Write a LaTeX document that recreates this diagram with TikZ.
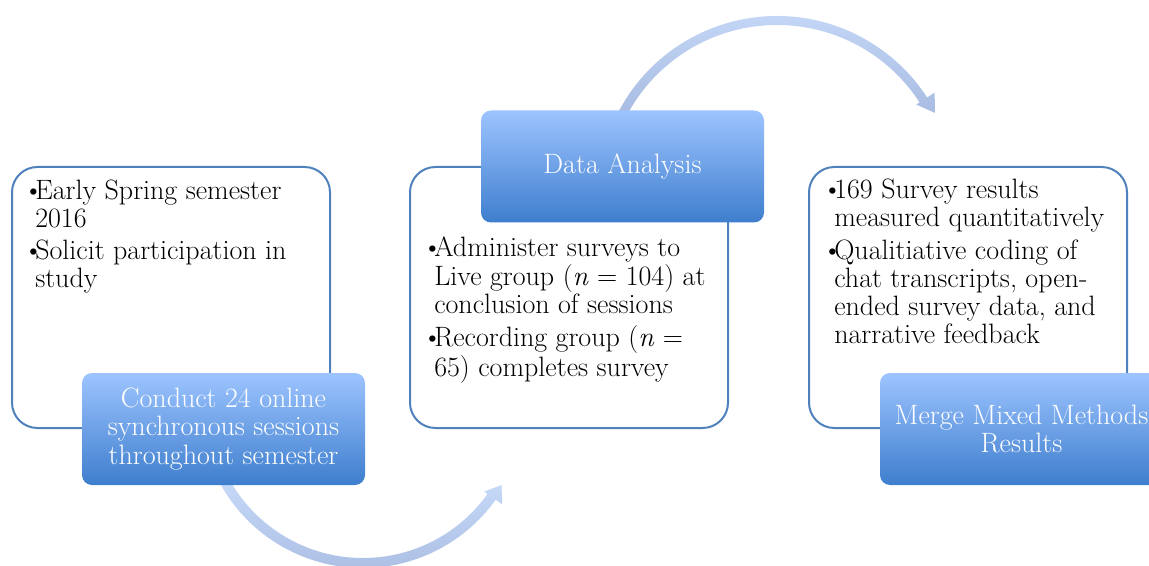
\documentclass[tikz,border=0pt]{standalone}
\usetikzlibrary{calc}

\definecolor{frameblue}{RGB}{79,129,189}
\definecolor{boxtop}{RGB}{157,196,255}
\definecolor{boxbottom}{RGB}{62,126,205}
\definecolor{arrowlight}{RGB}{201,220,251}
\definecolor{arrowdark}{RGB}{166,186,224}

\newcommand\bul{\makebox[9pt][l]{\textbullet}}

\tikzset{
  listbox/.style={draw=frameblue, line width=1.5pt, fill=white, rounded corners=19pt,
    minimum width=238.5pt, minimum height=195.75pt, inner sep=0pt},
  stepbox/.style={rounded corners=7.5pt, top color=boxtop, bottom color=boxbottom,
    minimum width=212.25pt, minimum height=84pt, inner sep=0pt, text=white,
    align=center, font=\fontsize{21}{21.5}\selectfont},
  listtext/.style={anchor=base west, inner sep=0pt, font=\fontsize{21}{21}\selectfont},
  cyclearrow/.style={top color=arrowlight, bottom color=arrowdark, draw=none},
}

\begin{document}
\begin{tikzpicture}[x=0.75pt, y=0.75pt]
  \clip (0,0) rectangle (1149,565);

  % centres of the two curved arrows
  \coordinate (c1) at (363,160);
  \coordinate (c2) at (777,370);

  % lower curved arrow
  \shade[cyclearrow]
    ($(c1)+(205:122.25pt)$) arc[start angle=205, end angle=324.5, radius=122.25pt]
    -- ($(c1)+(324.5:128.25pt)$) -- ($(c1)+(330:120pt)$) -- ($(c1)+(324.5:111.75pt)$)
    -- ($(c1)+(324.5:114.75pt)$) arc[start angle=324.5, end angle=205, radius=114.75pt]
    -- cycle;

  % upper curved arrow
  \shade[cyclearrow]
    ($(c2)+(155:134.25pt)$) arc[start angle=155, end angle=33, radius=134.25pt]
    -- ($(c2)+(33:141pt)$) -- ($(c2)+(27.5:133.5pt)$) -- ($(c2)+(33:124.5pt)$)
    -- ($(c2)+(33:127.5pt)$) arc[start angle=33, end angle=155, radius=127.5pt]
    -- cycle;

  % framed lists
  \node[listbox] (w1) at (171,267.5) {};
  \node[listbox] (w2) at (569,267.5) {};
  \node[listbox] (w3) at (968,267.5) {};

  \node[listtext] (t1) at (23,365) {\begin{tabular}[t]{@{}l@{}l@{}}
    \bul & Early Spring semester\\
         & 2016\\[3pt]
    \bul & Solicit participation in\\
         & study
  \end{tabular}};

  \node[listtext] (t2) at (422,309) {\begin{tabular}[t]{@{}l@{}l@{}}
    \bul & Administer surveys to\\
         & Live group (\textit{n} = 104) at\\
         & conclusion of sessions\\[3pt]
    \bul & Recording group (\textit{n} =\\
         & 65) completes survey
  \end{tabular}};

  \node[listtext] (t3) at (822,366) {\begin{tabular}[t]{@{}l@{}l@{}}
    \bul & 169 Survey results\\
         & measured quantitatively\\[3pt]
    \bul & Qualitiative coding of\\
         & chat transcripts, open-\\
         & ended survey data, and\\
         & narrative feedback
  \end{tabular}};

  % step boxes
  \node[stepbox] (s1) at (223.5,136) {Conduct 24 online\\synchronous sessions\\throughout semester};
  \node[stepbox] (s2) at (622.5,398.5) {Data Analysis};
  \node[stepbox] (s3) at (1021.5,136) {Merge Mixed Methods\\Results};
\end{tikzpicture}
\end{document}
